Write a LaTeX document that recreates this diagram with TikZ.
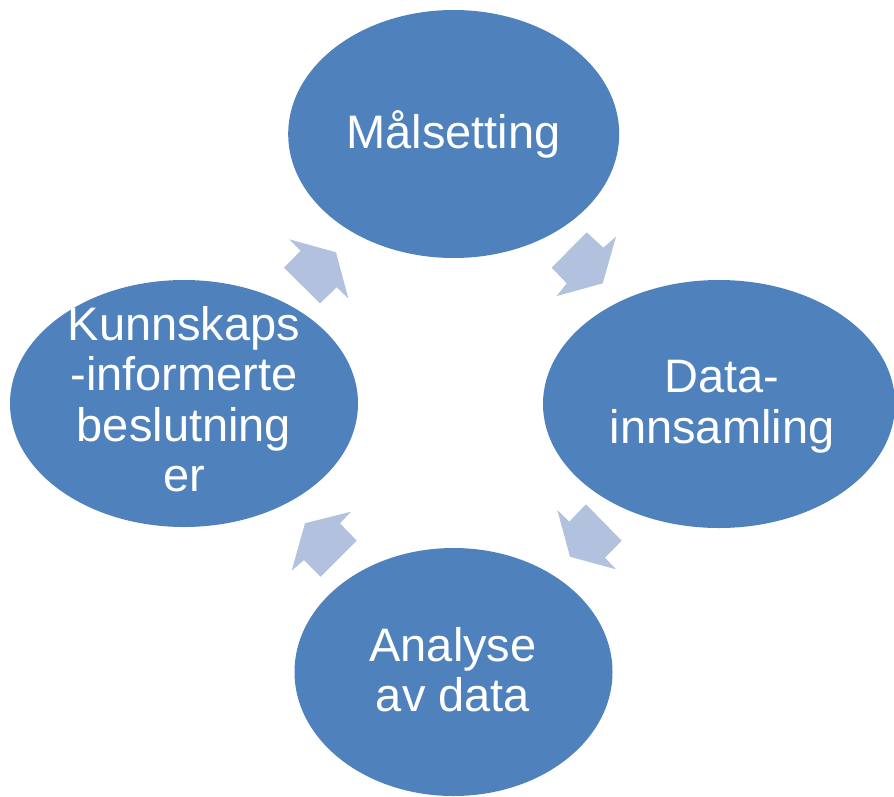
\documentclass[tikz,border=0pt]{standalone}
\usepackage{fontspec}
\setmainfont{Liberation Sans}
\usetikzlibrary{shapes.geometric}
\definecolor{blobblue}{RGB}{79,129,189}
\definecolor{arrowblue}{RGB}{177,193,222}
\tikzset{
  blob/.style={ellipse, fill=blobblue, draw=none, inner sep=0pt},
  lbl/.style={text=white, align=center, inner sep=0pt, anchor=base,
    font=\fontsize{47}{50.5}\selectfont},
  blockarrow/.style={fill=arrowblue, draw=none}
}
\begin{document}
\begin{tikzpicture}[x=1pt,y=-1pt]
\useasboundingbox (0,0) rectangle (894,796);
\clip (0,0) rectangle (894,796);
% ellipses
\node[blob, minimum width=331pt, minimum height=248pt] (goal) at (453.7,134) {};
\node[blob, minimum width=352pt, minimum height=248pt] (collect) at (719,404) {};
\node[blob, minimum width=318pt, minimum height=248pt] (analyse) at (453.5,672) {};
\node[blob, minimum width=348pt, minimum height=247pt] (decide) at (184,403.5) {};
% labels
\node[lbl] (goaltxt) at (453.5,148) {Målsetting};
\node[lbl] (collecttxt) at (722,443.3) {Data-\\innsamling};
\node[lbl] (analysetxt) at (453,711.7) {Analyse\\av data};
\node[lbl] (decidetxt) at (184,491.7) {Kunnskaps\\-informerte\\beslutning\\er};
% block arrows
\fill[blockarrow] (556.7,296) -- (566.7,283.3) -- (551.7,267.7) -- (586.7,232.3)
  -- (603.3,247.7) -- (616,236.7) -- (602.7,283.3) -- cycle;
\fill[blockarrow] (557.3,510) -- (569.3,521.7) -- (586,504.3) -- (621.7,540.7)
  -- (605,557.7) -- (616,569.3) -- (570,556.7) -- cycle;
\fill[blockarrow] (351,511.7) -- (340,523.3) -- (356.7,540.7) -- (320.7,576.7)
  -- (304,560) -- (291.7,570.7) -- (305,523.3) -- cycle;
\fill[blockarrow] (289.3,239.3) -- (300.7,250.7) -- (284,267.7) -- (320,303.3)
  -- (336.7,287.3) -- (348.3,298.3) -- (336,252.3) -- cycle;
\end{tikzpicture}
\end{document}
